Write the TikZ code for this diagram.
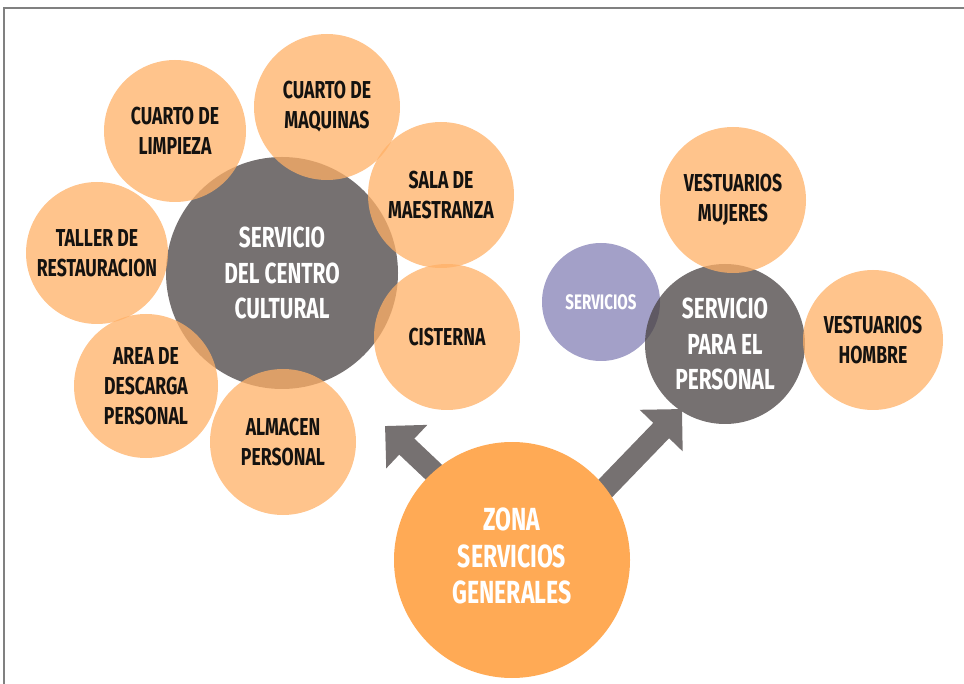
\documentclass[tikz,border=0pt]{standalone}
\usepackage{fontspec}
\setmainfont{Fira Sans}[FakeStretch=0.72]
\usetikzlibrary{arrows.meta}
\definecolor{orl}{RGB}{255,176,102}
\definecolor{gry}{RGB}{72,66,66}
\definecolor{prp}{RGB}{132,128,182}
\definecolor{orb}{RGB}{255,170,85}
\definecolor{arr}{RGB}{118,113,113}
\definecolor{frm}{RGB}{128,128,128}
\definecolor{txt}{RGB}{20,18,16}
\tikzset{
  bub/.style={circle, inner sep=0pt, align=center, fill opacity=0.75, text opacity=1},
  orc/.style={bub, fill=orl, text=txt, font=\bfseries\fontsize{24.5}{30}\selectfont},
  grc/.style={bub, fill=gry, text=white, font=\bfseries\fontsize{29}{35.5}\selectfont},
  prc/.style={bub, fill=prp, text=white, font=\bfseries\fontsize{21}{24}\selectfont},
  zonac/.style={circle, inner sep=0pt, align=center, fill=orb, text=white, font=\bfseries\fontsize{32}{36.5}\selectfont},
  bigarrow/.style={draw=arr, line width=22pt, -{Triangle[length=30pt, width=58pt]}},
  frame/.style={draw=frm, line width=1.5pt}
}
\begin{document}
\begin{tikzpicture}[x=1pt, y=-1pt]
\useasboundingbox (0,0) rectangle (964,684);
\coordinate (f1) at (4,684);
\coordinate (f2) at (4,8);
\coordinate (f3) at (964,8);
\draw[frame] (f1) -- (f2) -- (f3);

\node[grc, minimum size=232pt] (centro) at (282,273) {SERVICIO\\DEL CENTRO\\CULTURAL};
\node[orc, minimum size=142pt] (limpieza) at (175,131) {CUARTO DE\\LIMPIEZA};
\node[orc, minimum size=146pt] (maquinas) at (327,107) {CUARTO DE\\MAQUINAS};
\node[orc, minimum size=146pt] (sala) at (441,195) {SALA DE\\MAESTRANZA};
\node[orc, minimum size=142pt] (taller) at (97,253) {TALLER DE\\RESTAURACION};
\node[orc, minimum size=146pt] (cisterna) at (447,337) {CISTERNA};
\node[orc, minimum size=144pt] (descarga) at (146,386) {AREA DE\\DESCARGA\\PERSONAL};
\node[orc, minimum size=146pt] (almacen) at (283,442) {ALMACEN\\PERSONAL};

\node[prc, minimum size=118pt] (servicios) at (601,302) {SERVICIOS};
\node[grc, minimum size=160pt] (personal) at (725,344) {SERVICIO\\PARA EL\\PERSONAL};
\node[orc, minimum size=146pt] (mujeres) at (733,200) {VESTUARIOS\\MUJERES};
\node[orc, minimum size=140pt] (hombre) at (873,340) {VESTUARIOS\\HOMBRE};

\coordinate (a1s) at (440,478);
\coordinate (a1t) at (385,426);
\coordinate (a2s) at (598,496);
\coordinate (a2t) at (682,409);
\draw[bigarrow] (a1s) -- (a1t);
\draw[bigarrow] (a2s) -- (a2t);

\node[zonac, minimum size=236pt] (zona) at (512,560) {};
\node[zonac, fill=none, inner sep=0pt] (zonatxt) at (512,556) {ZONA\\SERVICIOS\\GENERALES};
\end{tikzpicture}
\end{document}
